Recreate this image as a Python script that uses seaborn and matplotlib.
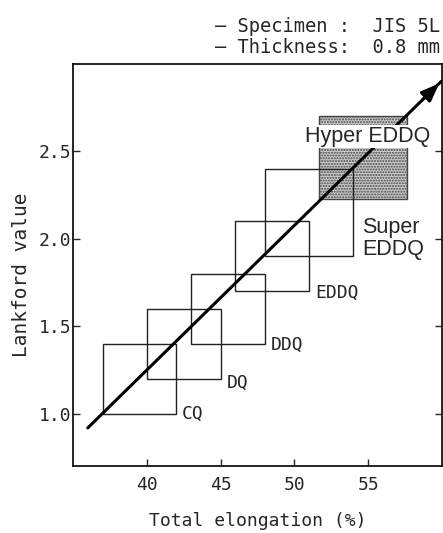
import matplotlib
matplotlib.use("Agg")
import matplotlib.pyplot as plt
import seaborn as sns
import pandas as pd
from matplotlib.patches import Rectangle

# Data
grades = ["CQ", "DQ", "DDQ", "EDDQ", "Super\nEDDQ", "Hyper EDDQ"]
elong_min = [37, 40, 43, 46, 48, 51.7]
elong_max = [42, 45, 48, 51, 54, 57.6]
r_min = [1.0, 1.2, 1.4, 1.7, 1.9, 2.23]
r_max = [1.4, 1.6, 1.8, 2.1, 2.4, 2.7]
label_y = [1.0, 1.175, 1.39, 1.69]
trend_x = [36.0, 59.95]
trend_y = [0.918, 2.90]
x_ticks = [40, 45, 50, 55]
y_ticks = [1.0, 1.5, 2.0, 2.5]
y_ticklabels = ["1.0", "1.5", "2.0", "2.5"]

sns.set_theme(style="ticks")
mono = ["DejaVu Sans Mono", "DejaVu Sans"]
sans = ["Liberation Sans", "DejaVu Sans"]
plt.rcParams["font.family"] = mono

fig = plt.figure(figsize=(4.43, 5.33), dpi=100)
ax = fig.add_axes([0.1648, 0.1257, 0.8329, 0.7543])

# shaded Hyper EDDQ box first
i = 5
ax.add_patch(Rectangle((elong_min[i], r_min[i]), elong_max[i] - elong_min[i], r_max[i] - r_min[i],
                       facecolor="#cccccc", edgecolor="#444444", lw=1.0, hatch="......", zorder=1))
for i in range(5):
    ax.add_patch(Rectangle((elong_min[i], r_min[i]), elong_max[i] - elong_min[i], r_max[i] - r_min[i],
                           facecolor="none", edgecolor="#222222", lw=1.0, zorder=2))

df = pd.DataFrame({"x": trend_x, "y": trend_y})
sns.lineplot(data=df, x="x", y="y", color="black", lw=2.2, ax=ax, zorder=3)
dx = 1.4
ax.annotate("", xy=(trend_x[1], trend_y[1]),
            xytext=(trend_x[1] - dx, trend_y[1] - dx * (trend_y[1] - trend_y[0]) / (trend_x[1] - trend_x[0])),
            arrowprops=dict(arrowstyle="-|>,head_length=0.9,head_width=0.35", color="black", lw=2.2),
            zorder=4, annotation_clip=False)

for i in range(4):
    ax.text(elong_max[i] + 0.4, label_y[i], grades[i], fontsize=13, va="center", ha="left", family=mono)
ax.text(54.6, 2.0, grades[4], fontsize=15.5, va="center", ha="left", family=sans, linespacing=1.05)
ax.text(54.93, 2.586, grades[5], fontsize=15.5, va="center", ha="center", family=sans,
        bbox=dict(facecolor="white", edgecolor="none", pad=1.0), zorder=5)

ax.set_xlim(35, 60)
ax.set_ylim(0.7, 3.0)
ax.set_xticks(x_ticks)
ax.set_xticklabels([str(t) for t in x_ticks], fontsize=13, family=mono)
ax.set_yticks(y_ticks)
ax.set_yticklabels(y_ticklabels, fontsize=13, family=mono)
ax.tick_params(direction="in", length=5, width=1, right=True, top=False, labelright=False)
ax.tick_params(axis="x", pad=7)
ax.tick_params(axis="y", pad=1)
for s in ax.spines.values():
    s.set_linewidth(1.2)
    s.set_color("black")

ax.set_xlabel("Total elongation (%)", fontsize=13, family=mono)
ax.xaxis.set_label_coords(0.5, -0.115)
ax.set_ylabel("Lankford value", fontsize=14, family=mono)
ax.yaxis.set_label_coords(-0.115, 0.475)

fig.text(0.485, 0.940, "\u2014 Specimen :  JIS 5L", fontsize=13.5, ha="left", va="baseline", family=mono)
fig.text(0.485, 0.9006, "\u2014 Thickness:  0.8 mm", fontsize=13.5, ha="left", va="baseline", family=mono)

fig.savefig("out.png", dpi=100)
